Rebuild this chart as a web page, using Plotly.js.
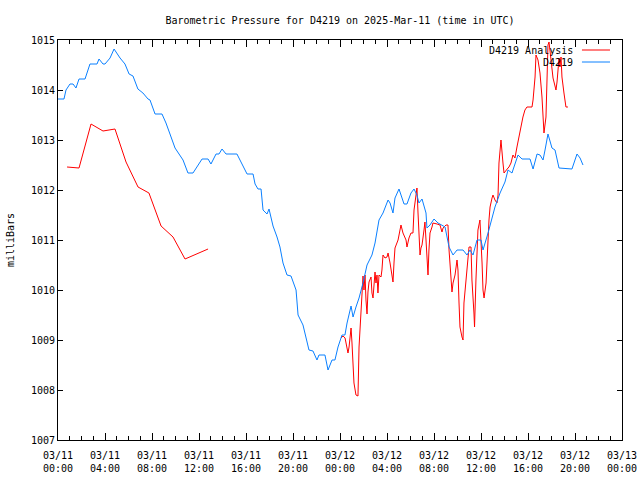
<!DOCTYPE html>
<html>
<head>
<meta charset="utf-8">
<script src="https://cdn.plot.ly/plotly-3.0.1.min.js"></script>
<style>html,body{margin:0;padding:0;background:#fff;}#chart{width:640px;height:480px;}</style>
</head>
<body>
<div id="chart"></div>
<script>
// Hours since 2025-03-11 00:00 UTC
const stationHours = [0,0.25,0.51,0.68,1.02,1.28,1.53,1.79,2.3,2.72,3.32,3.49,3.83,4.0,4.43,4.77,5.28,5.7,6.05,6.38,6.8,7.23,7.66,7.83,8.26,8.85,9.19,9.53,9.96,10.64,11.06,11.49,12.26,12.77,13.02,13.45,13.7,13.96,14.3,15.23,15.74,16.09,16.6,16.77,17.02,17.28,17.45,17.79,17.96,18.3,18.64,18.89,19.15,19.49,19.83,20.26,20.43,20.85,21.36,21.7,22.04,22.21,22.72,22.98,23.32,23.57,23.83,24.17,24.42,24.6,24.94,25.11,25.36,25.62,25.96,26.3,26.72,26.98,27.32,27.66,28.09,28.26,28.51,28.68,29.02,29.45,29.7,30.04,30.3,30.55,30.72,30.98,31.32,31.4,31.66,32.0,32.34,32.94,33.28,33.62,33.96,34.47,34.81,35.06,35.32,35.66,36.0,36.17,36.6,36.77,37.19,37.62,38.04,38.3,38.64,38.72,39.15,39.49,40.17,40.43,40.77,41.02,41.28,41.45,41.7,42.04,42.3,42.64,43.74,44.17,44.43,44.68];
const stationPressure = [1013.82,1013.82,1013.82,1014.0,1014.12,1014.12,1014.04,1014.22,1014.22,1014.52,1014.52,1014.62,1014.52,1014.52,1014.64,1014.82,1014.64,1014.52,1014.32,1014.28,1014.02,1013.94,1013.82,1013.8,1013.52,1013.52,1013.34,1013.12,1012.84,1012.6,1012.34,1012.34,1012.62,1012.62,1012.52,1012.72,1012.72,1012.82,1012.72,1012.72,1012.5,1012.32,1012.32,1012.12,1012.02,1012.02,1011.6,1011.52,1011.62,1011.28,1011.06,1010.86,1010.54,1010.3,1010.28,1010.0,1009.5,1009.3,1008.8,1008.78,1008.6,1008.7,1008.7,1008.4,1008.6,1008.6,1008.86,1009.1,1009.1,1009.34,1009.68,1009.46,1009.66,1009.84,1010.14,1010.5,1010.7,1010.94,1011.4,1011.54,1011.8,1011.74,1011.54,1011.84,1012.02,1011.72,1011.72,1011.94,1012.02,1011.9,1011.74,1011.82,1011.54,1011.24,1011.3,1011.42,1011.34,1011.26,1010.86,1010.7,1010.8,1010.8,1010.7,1010.8,1010.7,1011.0,1011.0,1010.8,1011.14,1011.3,1011.66,1011.94,1012.16,1012.4,1012.34,1012.4,1012.7,1012.62,1012.62,1012.42,1012.72,1012.7,1012.6,1012.8,1013.12,1012.84,1012.8,1012.44,1012.42,1012.72,1012.64,1012.5];

const analysisHours = [0.77,1.79,2.81,3.83,4.85,5.79,6.81,7.74,8.77,9.79,10.81,11.83,12.77,null,
24.09,24.26,24.43,24.6,24.68,24.77,24.94,25.02,25.11,25.19,25.36,25.53,25.62,25.79,25.87,25.96,26.04,26.13,26.21,26.3,26.38,26.47,26.64,26.72,26.81,26.89,26.98,27.06,27.15,27.23,27.32,27.49,27.57,27.66,27.83,28.0,28.09,28.26,28.43,28.51,28.6,28.68,28.94,29.19,29.36,29.62,29.7,29.87,30.04,30.21,30.3,30.47,30.55,30.64,30.72,30.81,30.89,30.98,31.15,31.23,31.32,31.4,31.49,31.57,31.66,31.83,31.91,32.26,32.51,32.68,32.77,33.02,33.19,33.28,33.45,33.53,33.62,33.79,33.96,34.04,34.13,34.21,34.38,34.47,34.55,34.72,34.81,34.98,35.15,35.23,35.4,35.45,35.57,35.66,35.74,35.91,36.0,36.09,36.17,36.26,36.43,36.51,36.6,36.68,36.77,36.94,37.02,37.19,37.36,37.45,37.49,37.53,37.7,37.79,37.87,37.96,38.13,38.3,38.38,38.55,38.72,38.89,39.06,39.32,39.57,39.74,39.91,40.34,40.43,40.6,40.68,40.85,41.02,41.19,41.28,41.36,41.53,41.62,41.7,41.79,41.96,42.04,42.13,42.38,42.47,42.64,42.72,42.81,42.89,43.06,43.23,43.4];
const analysisPressure = [1012.46,1012.44,1013.32,1013.18,1013.22,1012.56,1012.06,1011.94,1011.28,1011.06,1010.62,1010.72,1010.82,null,
1009.04,1009.08,1009.04,1008.86,1008.74,1008.86,1009.24,1008.94,1008.6,1008.14,1007.9,1007.88,1008.86,1009.56,1009.86,1010.28,1010.0,1010.3,1009.8,1009.52,1009.96,1010.16,1010.26,1009.94,1009.84,1010.14,1010.36,1010.14,1010.3,1009.94,1010.3,1010.26,1010.4,1010.7,1010.64,1010.66,1010.74,1010.54,1010.3,1010.16,1010.56,1010.84,1011.0,1011.3,1011.14,1011.0,1010.86,1011.04,1011.14,1011.14,1011.6,1011.86,1012.04,1011.54,1010.94,1010.7,1010.84,1010.9,1011.2,1011.36,1011.0,1010.6,1010.3,1010.8,1011.14,1011.26,1011.34,1011.32,1011.3,1011.16,1011.24,1011.3,1011.3,1010.8,1010.2,1009.96,1010.14,1010.3,1010.6,1010.4,1009.74,1009.26,1009.06,1009.0,1009.74,1010.2,1010.54,1010.86,1010.86,1010.2,1009.54,1009.26,1010.2,1010.86,1011.2,1011.4,1011.06,1010.54,1010.0,1009.84,1010.14,1010.46,1011.0,1011.4,1011.66,1011.84,1011.9,1011.8,1011.74,1011.9,1012.14,1012.54,1013.0,1012.66,1012.54,1012.34,1012.4,1012.44,1012.46,1012.54,1012.7,1012.64,1012.86,1013.2,1013.46,1013.6,1013.66,1013.66,1013.8,1014.26,1014.7,1014.6,1014.34,1013.86,1013.4,1013.14,1013.46,1014.34,1014.9,1014.96,1014.6,1014.34,1014.24,1014.0,1014.16,1014.64,1014.46,1014.66,1014.26,1013.94,1013.66,1013.66];

const tickHours = [0,4,8,12,16,20,24,28,32,36,40,44,48];
const tickLabels = ['03/11<br>00:00','03/11<br>04:00','03/11<br>08:00','03/11<br>12:00','03/11<br>16:00','03/11<br>20:00','03/12<br>00:00','03/12<br>04:00','03/12<br>08:00','03/12<br>12:00','03/12<br>16:00','03/12<br>20:00','03/13<br>00:00'];
const seriesNames = ['D4219 Analysis','D4219'];
const seriesColors = ['#ff0000','#0a80ff'];

const FONT = 'DejaVu Sans Mono, Liberation Mono, monospace';

const traces = [
  {x: analysisHours, y: analysisPressure, name: seriesNames[0], type:'scatter', mode:'lines',
   line:{color: seriesColors[0], width:1}, connectgaps:false, showlegend:false},
  {x: stationHours, y: stationPressure, name: seriesNames[1], type:'scatter', mode:'lines',
   line:{color: seriesColors[1], width:1}, showlegend:false}
];

const legendY = [0.975, 0.945];
const layout = {
  width:640, height:480,
  margin:{l:58, r:18, t:40, b:40},
  paper_bgcolor:'#ffffff', plot_bgcolor:'#ffffff',
  font:{family:FONT, size:10, color:'#000'},
  title:{text:'Barometric Pressure for D4219 on 2025-Mar-11 (time in UTC)', x:0.5, xref:'paper', xanchor:'center',
         y:1-20/480, yref:'container', yanchor:'middle', font:{family:FONT, size:10, color:'#000'}},
  xaxis:{range:[0,48], tickmode:'array', tickvals:tickHours, ticktext:tickLabels,
         ticks:'inside', ticklen:7, tickcolor:'#000', tickwidth:1, ticklabelstandoff:6,
         minor:{tickmode:'linear', tick0:0, dtick:1, ticks:'inside', ticklen:4, tickcolor:'#000', tickwidth:1, showgrid:false},
         showline:true, linecolor:'#000', linewidth:1, mirror:'ticks',
         showgrid:false, zeroline:false, fixedrange:true, tickfont:{family:FONT, size:10}},
  yaxis:{range:[1007,1015], tickmode:'linear', tick0:1007, dtick:1,
         ticks:'inside', ticklen:5, tickcolor:'#000', tickwidth:1,
         showline:true, linecolor:'#000', linewidth:1, mirror:'ticks',
         showgrid:false, zeroline:false, tickfont:{family:FONT, size:10},
         title:{text:'milliBars', standoff:14, font:{family:FONT, size:10}}},
  annotations: seriesNames.map((n,i)=>({text:n, xref:'paper', yref:'paper', x:0.9167, y:legendY[i],
         xanchor:'right', yanchor:'middle', showarrow:false, font:{family:FONT, size:10, color:'#000'}})),
  shapes: seriesColors.map((c,i)=>({type:'line', xref:'paper', yref:'paper', x0:0.929, x1:0.9787,
         y0:legendY[i], y1:legendY[i], line:{color:c, width:1}}))
};

Plotly.newPlot('chart', traces, layout, {displayModeBar:false, staticPlot:true});
</script>
</body>
</html>
